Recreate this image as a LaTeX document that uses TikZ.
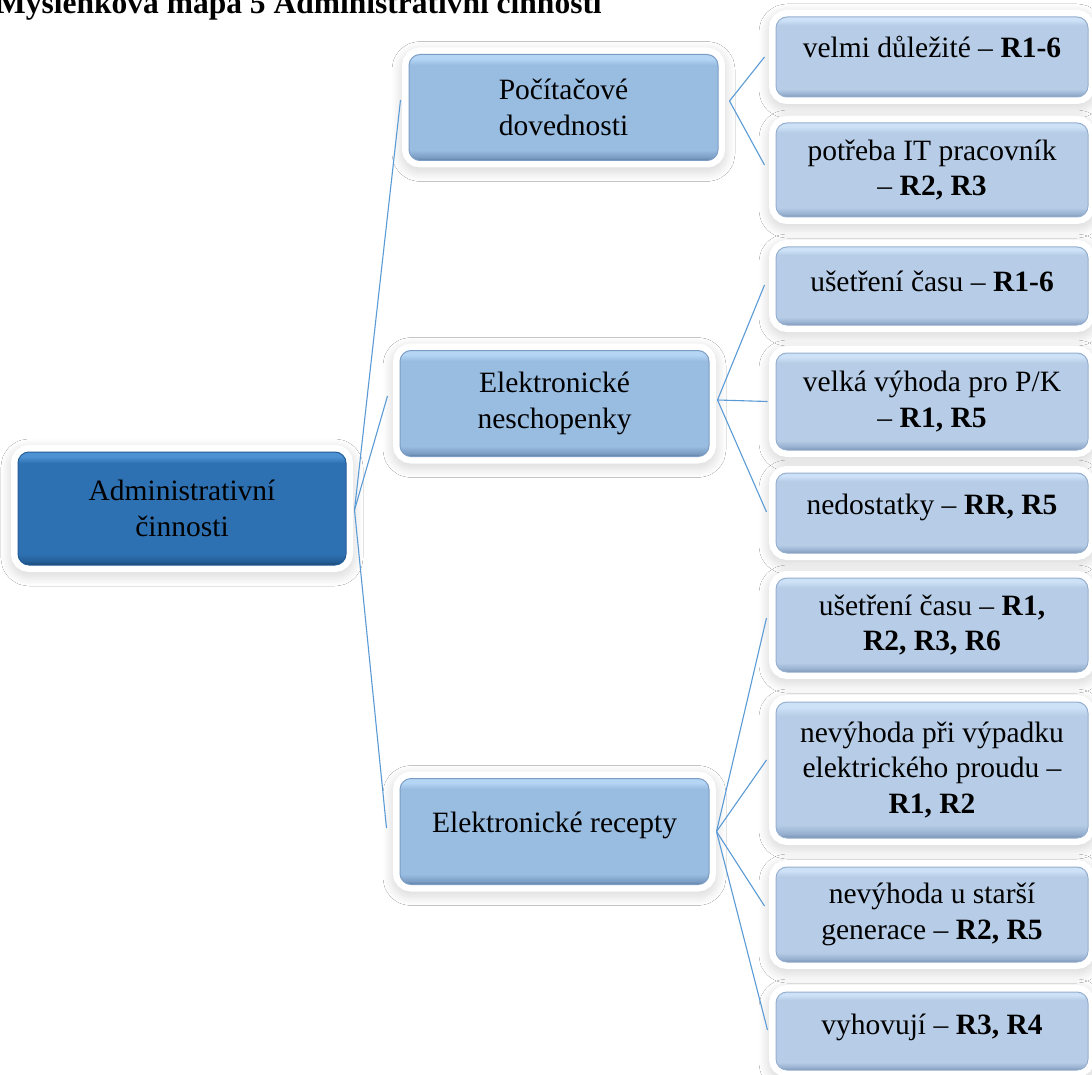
\documentclass[tikz,border=0pt]{standalone}
\usepackage{fontspec}
\setmainfont{Liberation Serif}
\usetikzlibrary{shadows.blur}

% palette
\definecolor{linkblue}{HTML}{5B9BD5}
\definecolor{roothi}{HTML}{4E92D4}
\definecolor{rootmid}{HTML}{2E71B2}
\definecolor{rootlow}{HTML}{245E98}
\definecolor{rootdark}{HTML}{1A446C}
\definecolor{ltwohi}{HTML}{B4D5F4}
\definecolor{ltwomid}{HTML}{99BCE1}
\definecolor{ltwolow}{HTML}{7C9EC5}
\definecolor{ltwodark}{HTML}{5B799E}
\definecolor{lthreehi}{HTML}{CDE2F7}
\definecolor{lthreemid}{HTML}{B7CDE7}
\definecolor{lthreelow}{HTML}{97AFCF}
\definecolor{lthreedark}{HTML}{7A92B2}

% bevelled vertical fills (path box spans 25bp..75bp)
\pgfdeclareverticalshading{shroot}{100bp}{color(0bp)=(rootdark); color(25bp)=(rootdark); color(26.5bp)=(rootlow); color(30bp)=(rootmid); color(70bp)=(rootmid); color(73bp)=(roothi); color(75bp)=(roothi); color(100bp)=(roothi)}
\pgfdeclareverticalshading{shltwo}{100bp}{color(0bp)=(ltwodark); color(25bp)=(ltwodark); color(26.5bp)=(ltwolow); color(30bp)=(ltwomid); color(70bp)=(ltwomid); color(73bp)=(ltwohi); color(75bp)=(ltwohi); color(100bp)=(ltwohi)}
\pgfdeclareverticalshading{shlthree}{100bp}{color(0bp)=(lthreedark); color(25bp)=(lthreedark); color(26.5bp)=(lthreelow); color(30bp)=(lthreemid); color(70bp)=(lthreemid); color(73bp)=(lthreehi); color(75bp)=(lthreehi); color(100bp)=(lthreehi)}

\tikzset{
  mmbox/.style={rectangle, rounded corners=11pt, align=center, inner sep=4pt,
    blur shadow={shadow xshift=0pt, shadow yshift=-4pt, shadow blur radius=17pt,
      shadow blur steps=12, shadow opacity=30},
    preaction={draw=white, line width=14pt},
    font=\fontsize{29.5}{35.5}\selectfont},
  rootbox/.style={mmbox, shade, shading=shroot, draw=rootlow, line width=1pt,
    minimum width=328pt, minimum height=113pt},
  midbox/.style={mmbox, shade, shading=shltwo, draw=ltwolow, line width=1pt,
    minimum width=309pt, minimum height=106pt},
  leafbox/.style={mmbox, shade, shading=shlthree, draw=lthreelow, line width=1pt,
    minimum width=312pt},
  oneline/.style={text height=20pt, text depth=#1},
  link/.style={draw=linkblue, line width=1.1pt},
  caption/.style={font=\fontsize{31.5}{36}\selectfont\bfseries, inner sep=0pt, anchor=base west}
}

\begin{document}
\begin{tikzpicture}[x=1pt, y=-1pt]
  \useasboundingbox (0,0) rectangle (1092,1075);
  \fill[white] (0,0) rectangle (1092,1075);

  \node[caption] (title) at (-4,14) {Myšlenková mapa 5 Administrativní činnosti};

  % root
  \node[rootbox] (root) at (182,508.5) {Administrativní\\činnosti};

  % second level
  \node[midbox] (poc) at (563.5,107.5) {Počítačové\\dovednosti};
  \node[midbox] (nes) at (554.5,403.5) {Elektronické\\neschopenky};
  \node[midbox, oneline=18pt] (rec) at (554.5,831.5) {Elektronické recepty};

  % third level
  \node[leafbox, minimum height=80pt, oneline=19pt] (a1) at (932,57) {velmi důležité – \textbf{R1-6}};
  \node[leafbox, minimum height=94pt] (a2) at (932,170) {potřeba IT pracovník\\– \textbf{R2, R3}};
  \node[leafbox, minimum height=78pt, oneline=9pt] (b1) at (932,286) {ušetření času – \textbf{R1-6}};
  \node[leafbox, minimum height=97pt] (b2) at (932,401.5) {velká výhoda pro P/K\\– \textbf{R1, R5}};
  \node[leafbox, minimum height=80pt, oneline=17pt] (b3) at (932,513) {nedostatky – \textbf{RR, R5}};
  \node[leafbox, minimum height=94pt] (c1) at (932,625) {ušetření času – \textbf{R1,}\\\textbf{R2, R3, R6}};
  \node[leafbox, minimum height=136pt] (c2) at (932,770) {nevýhoda při výpadku\\elektrického proudu –\\\textbf{R1, R2}};
  \node[leafbox, minimum height=95pt] (c3) at (932,914.5) {nevýhoda u starší\\generace – \textbf{R2, R5}};
  \node[leafbox, minimum height=78pt, oneline=13pt] (c4) at (932,1031) {vyhovují – \textbf{R3, R4}};

  % branching points
  \coordinate (rootout) at ([shift={(8pt,-1.5pt)}]root.east);
  \coordinate (pocout) at ([shift={(11pt,6.5pt)}]poc.east);
  \coordinate (nesout) at ([shift={(8pt,3.5pt)}]nes.east);
  \coordinate (recout) at ([shift={(7pt,0pt)}]rec.east);

  % connectors
  \draw[link] (rootout) -- ([shift={(-8pt,7.5pt)}]poc.west);
  \draw[link] (rootout) -- ([shift={(-12pt,7.5pt)}]nes.west);
  \draw[link] (rootout) -- ([shift={(-13pt,3.5pt)}]rec.west);

  \draw[link] (pocout) -- ([shift={(-11pt,0pt)}]a1.west);
  \draw[link] (pocout) -- ([shift={(-11pt,5pt)}]a2.west);

  \draw[link] (nesout) -- ([shift={(-11pt,1pt)}]b1.west);
  \draw[link] (nesout) -- ([shift={(-8pt,0pt)}]b2.west);
  \draw[link] (nesout) -- ([shift={(-9pt,1pt)}]b3.west);

  \draw[link] (recout) -- ([shift={(-9pt,7pt)}]c1.west);
  \draw[link] (recout) -- ([shift={(-9pt,10pt)}]c2.west);
  \draw[link] (recout) -- ([shift={(-11pt,8.5pt)}]c3.west);
  \draw[link] (recout) -- ([shift={(-8pt,1pt)}]c4.west);
\end{tikzpicture}
\end{document}
